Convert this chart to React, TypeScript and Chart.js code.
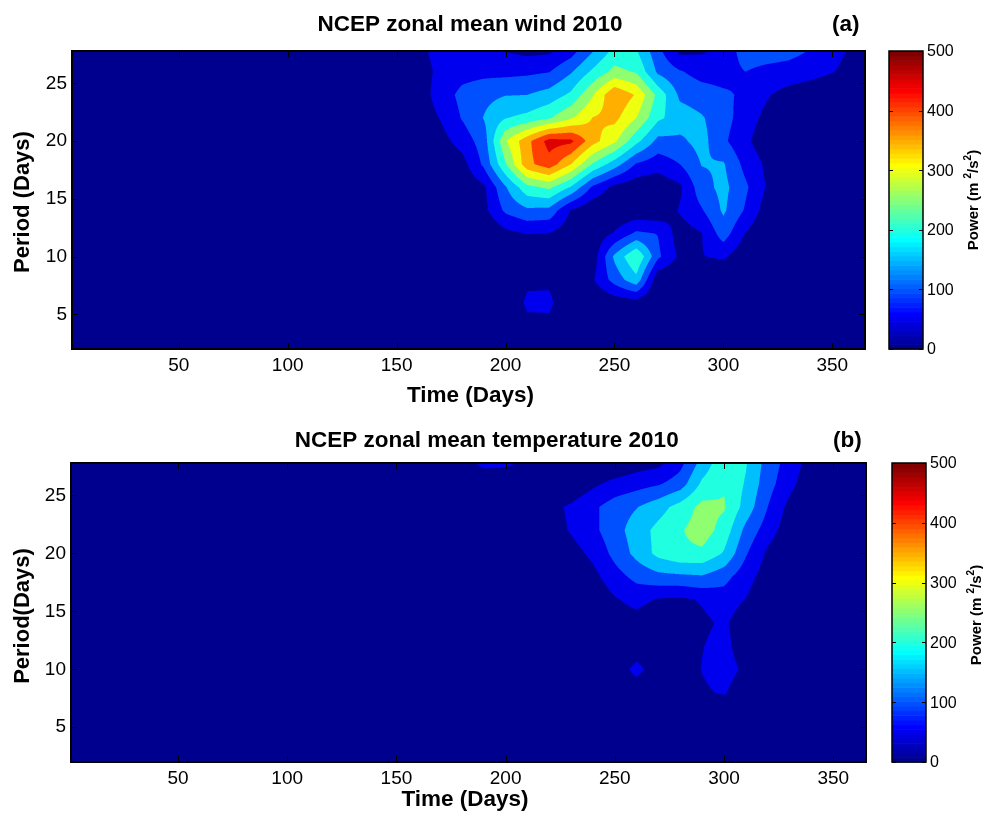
import React, { useEffect, useRef } from 'react';
import { Chart, registerables } from 'chart.js';

Chart.register(...registerables);

// ---------------- data ----------------
const PERIODS = [28, 26, 24, 22, 20, 18, 16, 14, 12, 10, 8, 6, 4, 2];

const WIND_TIMES = [140, 150, 160, 170, 180, 190, 200, 210, 220, 230, 240, 250, 260, 270, 280, 290, 300, 310, 320, 330, 340, 350, 360, 370];
const WIND_POWER = [
  [0, 0, 40, 65, 70, 65, 45, 30, 35, 70, 140, 210, 200, 112, 30, 40, 60, 130, 130, 120, 100, 70, 40, 20],
  [0, 0, 30, 60, 80, 85, 85, 90, 98, 145, 210, 265, 245, 140, 105, 80, 75, 100, 85, 80, 70, 52, 30, 10],
  [0, 0, 25, 70, 115, 135, 148, 150, 170, 210, 295, 395, 345, 235, 140, 125, 110, 90, 55, 30, 15, 5, 0, 0],
  [0, 0, 20, 52, 103, 152, 198, 215, 245, 295, 352, 365, 300, 210, 175, 155, 120, 75, 35, 10, 0, 0, 0, 0],
  [0, 0, 10, 30, 70, 125, 295, 385, 470, 462, 370, 310, 215, 135, 140, 168, 110, 60, 20, 0, 0, 0, 0, 0],
  [0, 0, 0, 10, 30, 110, 245, 385, 430, 350, 245, 175, 95, 70, 100, 152, 155, 85, 40, 10, 0, 0, 0, 0],
  [0, 0, 0, 0, 10, 40, 145, 235, 260, 195, 90, 35, 15, 15, 40, 130, 165, 110, 45, 10, 0, 0, 0, 0],
  [0, 0, 0, 0, 0, 35, 110, 140, 135, 45, 10, 5, 10, 10, 55, 95, 158, 95, 25, 0, 0, 0, 0, 0],
  [0, 0, 0, 0, 0, 0, 35, 52, 48, 20, 15, 55, 110, 98, 25, 48, 125, 48, 5, 0, 0, 0, 0, 0],
  [0, 0, 0, 0, 0, 0, 0, 0, 0, 0, 20, 160, 250, 110, 40, 48, 58, 15, 0, 0, 0, 0, 0, 0],
  [0, 0, 0, 0, 0, 0, 0, 40, 40, 0, 45, 120, 185, 10, 0, 0, 0, 0, 0, 0, 0, 0, 0, 0],
  [0, 0, 0, 0, 0, 0, 0, 60, 62, 0, 0, 20, 25, 0, 0, 0, 0, 0, 0, 0, 0, 0, 0, 0],
  [0, 0, 0, 0, 0, 0, 0, 35, 35, 0, 0, 0, 0, 0, 0, 0, 0, 0, 0, 0, 0, 0, 0, 0],
  [0, 0, 0, 0, 0, 0, 0, 0, 0, 0, 0, 0, 0, 0, 0, 0, 0, 0, 0, 0, 0, 0, 0, 0],
];

const TEMP_TIMES = [170, 180, 190, 200, 210, 220, 230, 240, 250, 260, 270, 280, 290, 300, 310, 320, 330, 340, 350, 360];
const TEMP_POWER = [
  [0, 20, 75, 70, 40, 0, 0, 0, 0, 20, 30, 80, 165, 235, 205, 130, 80, 30, 0, 0],
  [0, 0, 0, 0, 0, 0, 10, 40, 65, 80, 95, 125, 210, 245, 195, 120, 65, 15, 0, 0],
  [0, 0, 0, 0, 0, 35, 58, 90, 125, 148, 180, 220, 265, 255, 180, 100, 35, 0, 0, 0],
  [0, 0, 0, 0, 0, 25, 55, 88, 130, 175, 215, 245, 275, 230, 135, 75, 20, 0, 0, 0],
  [0, 0, 0, 0, 0, 0, 30, 62, 115, 165, 215, 240, 240, 195, 105, 40, 0, 0, 0, 0],
  [0, 0, 0, 0, 0, 0, 10, 35, 80, 115, 135, 140, 145, 118, 70, 25, 0, 0, 0, 0],
  [0, 0, 0, 0, 0, 0, 0, 10, 45, 65, 45, 40, 55, 75, 48, 10, 0, 0, 0, 0],
  [0, 0, 0, 0, 0, 0, 0, 0, 25, 30, 10, 10, 40, 58, 20, 0, 0, 0, 0, 0],
  [0, 0, 0, 0, 0, 0, 0, 0, 0, 0, 0, 10, 48, 68, 15, 0, 0, 0, 0, 0],
  [0, 0, 0, 0, 0, 0, 0, 0, 0, 75, 0, 15, 52, 75, 38, 0, 0, 0, 0, 0],
  [0, 0, 0, 0, 0, 0, 0, 0, 0, 0, 0, 0, 42, 56, 10, 0, 0, 0, 0, 0],
  [0, 0, 0, 0, 0, 0, 0, 0, 0, 0, 0, 0, 0, 0, 0, 0, 0, 0, 0, 0],
  [0, 0, 0, 0, 0, 0, 0, 0, 0, 0, 0, 0, 0, 0, 0, 0, 0, 0, 0, 0],
  [0, 0, 0, 0, 0, 0, 0, 0, 0, 0, 0, 0, 0, 0, 0, 0, 0, 0, 0, 0],
];

const X_TICKS = [50, 100, 150, 200, 250, 300, 350];
const Y_TICKS = [5, 10, 15, 20, 25];
const CB_TICKS = [0, 100, 200, 300, 400, 500];
const LEVELS = [0, 50, 100, 150, 200, 250, 300, 350, 400, 450];
const TIME_RANGE = [1, 365];
const PERIOD_RANGE = [2, 27.8];
const POWER_RANGE = [0, 500];

// ---------------- helpers ----------------
const FONT = "'Liberation Sans', Arial, Helvetica, sans-serif";

function jet64(k: number): [number, number, number] {
  const u = (i: number) => (i < 1 || i > 47 ? 0 : i <= 16 ? i / 16 : i <= 31 ? 1 : (48 - i) / 16);
  return [u(k - 24), u(k - 8), u(k + 8)].map((v) => Math.round(v * 255)) as [number, number, number];
}

function colorIndexFor(v: number) {
  const [lo, hi] = POWER_RANGE;
  return Math.max(1, Math.min(64, Math.floor(((v - lo) / (hi - lo)) * 64) + 1));
}

const LEVEL_RGB = LEVELS.map((lv) => jet64(colorIndexFor(lv)));

function levelIndex(v: number) {
  let k = 0;
  for (let i = 0; i < LEVELS.length; i++) if (v >= LEVELS[i]) k = i;
  return k;
}

function sampleGrid(times: number[], rows: number[][], t: number, p: number) {
  const n = times.length;
  let i = 0;
  while (i < n - 2 && t > times[i + 1]) i++;
  let ft = (t - times[i]) / (times[i + 1] - times[i]);
  ft = Math.max(0, Math.min(1, ft));
  const m = PERIODS.length;
  let j = 0;
  while (j < m - 2 && p < PERIODS[j + 1]) j++;
  let fp = (PERIODS[j] - p) / (PERIODS[j] - PERIODS[j + 1]);
  fp = Math.max(0, Math.min(1, fp));
  const a = rows[j][i], b = rows[j][i + 1], c = rows[j + 1][i], d = rows[j + 1][i + 1];
  return (a * (1 - ft) + b * ft) * (1 - fp) + (c * (1 - ft) + d * ft) * fp;
}

type PanelCfg = {
  top: number; height: number; padTop: number; xH: number; yW: number; cW: number;
  cbL: number; cbR: number; cbLabelX: number;
  title: string; titleX: number; titleY: number;
  tag: string; tagX: number; tagY: number;
  yTitle: string; yTitleX: number; yTitleY: number;
  xTitle: string; xTitleX: number; xTitleY: number;
  powX: number; powY: number;
  times: number[]; rows: number[][];
};

const PANEL_A: PanelCfg = {
  top: 0, height: 410, padTop: 51, xH: 61, yW: 72, cW: 118,
  cbL: 889, cbR: 923, cbLabelX: 927,
  title: 'NCEP zonal mean wind 2010', titleX: 470, titleY: 25,
  tag: '(a)', tagX: 832, tagY: 25,
  yTitle: 'Period (Days)', yTitleX: 23, yTitleY: 202,
  xTitle: 'Time (Days)', xTitleX: 470.5, xTitleY: 396,
  powX: 972, powY: 200,
  times: WIND_TIMES, rows: WIND_POWER,
};

const PANEL_B: PanelCfg = {
  top: 410, height: 403, padTop: 53, xH: 51, yW: 71, cW: 117,
  cbL: 892, cbR: 926, cbLabelX: 930,
  title: 'NCEP zonal mean temperature 2010', titleX: 486.7, titleY: 31,
  tag: '(b)', tagX: 833, tagY: 31,
  yTitle: 'Period(Days)', yTitleX: 22.5, yTitleY: 206,
  xTitle: 'Time (Days)', xTitleX: 465, xTitleY: 390,
  powX: 975, powY: 205,
  times: TEMP_TIMES, rows: TEMP_POWER,
};

function drawContour(chart: any, cfg: PanelCfg) {
  const { ctx, chartArea: a, scales } = chart;
  const xs = scales.x, ys = scales.y;
  const L = Math.floor(a.left), T = Math.floor(a.top);
  const W = Math.ceil(a.right) - L, H = Math.ceil(a.bottom) - T;
  const off = document.createElement('canvas');
  off.width = W; off.height = H;
  const octx = off.getContext('2d')!;
  const img = octx.createImageData(W, H);
  const S = 3;
  const tv: number[] = [];
  for (let i = 0; i < W * S; i++) tv.push(xs.getValueForPixel(L + (i + 0.5) / S));
  const pv: number[] = [];
  for (let j = 0; j < H * S; j++) pv.push(ys.getValueForPixel(T + (j + 0.5) / S));
  const d = img.data;
  for (let j = 0; j < H; j++) {
    for (let i = 0; i < W; i++) {
      let r = 0, g = 0, b = 0;
      for (let sj = 0; sj < S; sj++) {
        for (let si = 0; si < S; si++) {
          const v = sampleGrid(cfg.times, cfg.rows, tv[i * S + si], pv[j * S + sj]);
          const c = LEVEL_RGB[levelIndex(v)];
          r += c[0]; g += c[1]; b += c[2];
        }
      }
      const k = (j * W + i) * 4, n = S * S;
      d[k] = r / n; d[k + 1] = g / n; d[k + 2] = b / n; d[k + 3] = 255;
    }
  }
  octx.putImageData(img, 0, 0);
  ctx.save();
  ctx.beginPath();
  ctx.rect(a.left, a.top, a.right - a.left, a.bottom - a.top);
  ctx.clip();
  ctx.drawImage(off, L, T);
  ctx.restore();
}

function drawFrame(chart: any, cfg: PanelCfg) {
  const { ctx, chartArea: a, scales } = chart;
  const xs = scales.x, ys = scales.y, cs = scales.c;
  ctx.save();
  ctx.strokeStyle = '#000';
  ctx.lineWidth = 1;
  ctx.beginPath();
  X_TICKS.forEach((v) => {
    const px = Math.round(xs.getPixelForValue(v)) + 0.5;
    ctx.moveTo(px, a.top); ctx.lineTo(px, a.top + 6);
    ctx.moveTo(px, a.bottom); ctx.lineTo(px, a.bottom - 6);
  });
  Y_TICKS.forEach((v) => {
    const py = Math.round(ys.getPixelForValue(v)) + 0.5;
    ctx.moveTo(a.left, py); ctx.lineTo(a.left + 6, py);
    ctx.moveTo(a.right, py); ctx.lineTo(a.right - 6, py);
  });
  ctx.stroke();
  ctx.lineWidth = 2;
  ctx.strokeRect(a.left, a.top, a.right - a.left, a.bottom - a.top);

  // colorbar
  for (let k = 1; k <= 64; k++) {
    const v0 = POWER_RANGE[0] + ((k - 1) * (POWER_RANGE[1] - POWER_RANGE[0])) / 64;
    const v1 = POWER_RANGE[0] + (k * (POWER_RANGE[1] - POWER_RANGE[0])) / 64;
    const y0 = cs.getPixelForValue(v0), y1 = cs.getPixelForValue(v1);
    const c = jet64(k);
    ctx.fillStyle = `rgb(${c[0]},${c[1]},${c[2]})`;
    ctx.fillRect(cfg.cbL, y1, cfg.cbR - cfg.cbL, y0 - y1 + 0.6);
  }
  ctx.lineWidth = 1;
  ctx.beginPath();
  CB_TICKS.forEach((v) => {
    const py = Math.round(cs.getPixelForValue(v)) + 0.5;
    ctx.moveTo(cfg.cbL, py); ctx.lineTo(cfg.cbL + 4, py);
    ctx.moveTo(cfg.cbR, py); ctx.lineTo(cfg.cbR - 4, py);
  });
  ctx.stroke();
  ctx.lineWidth = 1.5;
  const cTop = cs.getPixelForValue(POWER_RANGE[1]), cBot = cs.getPixelForValue(POWER_RANGE[0]);
  ctx.strokeRect(cfg.cbL, cTop, cfg.cbR - cfg.cbL, cBot - cTop);

  // colorbar tick labels (positions from the colorbar scale)
  ctx.fillStyle = '#000';
  ctx.font = `16px ${FONT}`;
  ctx.textAlign = 'left';
  ctx.textBaseline = 'middle';
  CB_TICKS.forEach((v) => {
    ctx.fillText(String(v), cfg.cbLabelX, cs.getPixelForValue(v) + 1);
  });

  // texts
  ctx.textBaseline = 'middle';
  ctx.textAlign = 'center';
  ctx.font = `bold 22.5px ${FONT}`;
  ctx.fillText(cfg.title, cfg.titleX, cfg.titleY);
  ctx.textAlign = 'left';
  ctx.fillText(cfg.tag, cfg.tagX, cfg.tagY);
  ctx.textAlign = 'center';
  ctx.fillText(cfg.xTitle, cfg.xTitleX, cfg.xTitleY);
  ctx.save();
  ctx.translate(cfg.yTitleX, cfg.yTitleY);
  ctx.rotate(-Math.PI / 2);
  ctx.font = `bold 22px ${FONT}`;
  ctx.fillText(cfg.yTitle, 0, 0);
  ctx.restore();

  // colorbar label with superscripts
  const parts: [string, boolean][] = [['Power (m ', false], ['2', true], ['/s', false], ['2', true], [')', false]];
  const big = `bold 15px ${FONT}`, small = `bold 10px ${FONT}`;
  let total = 0;
  parts.forEach(([s, sup]) => { ctx.font = sup ? small : big; total += ctx.measureText(s).width; });
  ctx.save();
  ctx.translate(cfg.powX, cfg.powY);
  ctx.rotate(-Math.PI / 2);
  ctx.textAlign = 'left';
  ctx.textBaseline = 'alphabetic';
  let xx = -total / 2;
  parts.forEach(([s, sup]) => {
    ctx.font = sup ? small : big;
    ctx.fillText(s, xx, sup ? -1 : 5.5);
    xx += ctx.measureText(s).width;
  });
  ctx.restore();
  ctx.restore();
}

function buildConfig(cfg: PanelCfg): any {
  const plugin = {
    id: 'contourPanel',
    beforeDatasetsDraw(chart: any) { drawContour(chart, cfg); },
    afterDraw(chart: any) { drawFrame(chart, cfg); },
  };
  return {
    type: 'scatter',
    data: { datasets: [{ data: [], pointRadius: 0 }] },
    options: {
      responsive: false,
      animation: false,
      events: [],
      layout: { autoPadding: false, padding: { top: cfg.padTop, left: 0, right: 0, bottom: 0 } },
      plugins: { legend: { display: false }, title: { display: false }, tooltip: { enabled: false } },
      scales: {
        x: {
          type: 'linear', position: 'bottom', min: TIME_RANGE[0], max: TIME_RANGE[1],
          afterBuildTicks: (s: any) => { s.ticks = X_TICKS.map((v) => ({ value: v })); },
          afterFit: (s: any) => { s.height = cfg.xH; },
          grid: { display: false, drawTicks: false },
          border: { display: false },
          ticks: { autoSkip: false, maxRotation: 0, padding: 5, color: '#000', font: { family: FONT, size: 19 }, callback: (v: any) => String(v) },
        },
        y: {
          type: 'linear', position: 'left', min: PERIOD_RANGE[0], max: PERIOD_RANGE[1],
          afterBuildTicks: (s: any) => { s.ticks = Y_TICKS.map((v) => ({ value: v })); },
          afterFit: (s: any) => { s.width = cfg.yW; },
          grid: { display: false, drawTicks: false },
          border: { display: false },
          ticks: { autoSkip: false, padding: 5, color: '#000', font: { family: FONT, size: 19 }, callback: (v: any) => String(v) },
        },
        c: {
          type: 'linear', position: 'right', min: POWER_RANGE[0], max: POWER_RANGE[1],
          afterBuildTicks: (s: any) => { s.ticks = CB_TICKS.map((v) => ({ value: v })); },
          afterFit: (s: any) => { s.width = cfg.cW; },
          grid: { display: false, drawTicks: false },
          border: { display: false },
          ticks: { display: false, padding: 0 },
        },
      },
    },
    plugins: [plugin],
  };
}

function PanelChart({ cfg }: { cfg: PanelCfg }) {
  const ref = useRef<HTMLCanvasElement>(null);
  useEffect(() => {
    const chart = new Chart(ref.current as HTMLCanvasElement, buildConfig(cfg));
    return () => chart.destroy();
  }, [cfg]);
  return (
    <canvas
      ref={ref}
      width={983}
      height={cfg.height}
      style={{ position: 'absolute', left: 0, top: cfg.top, width: 983, height: cfg.height }}
    />
  );
}

export default function App() {
  return (
    <div style={{ position: 'absolute', left: 0, top: 0, width: 983, height: 813, background: '#fff' }}>
      <PanelChart cfg={PANEL_A} />
      <PanelChart cfg={PANEL_B} />
    </div>
  );
}
